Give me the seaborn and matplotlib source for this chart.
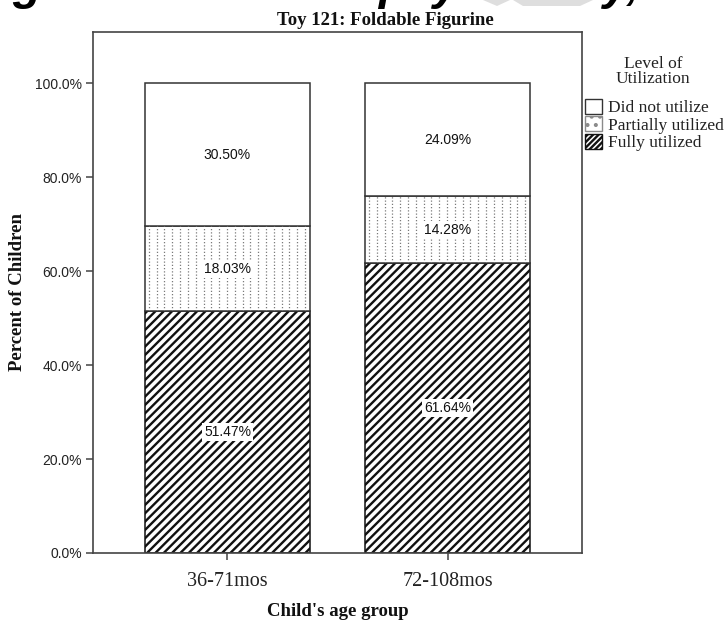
import numpy as np
import pandas as pd
import matplotlib.pyplot as plt
import seaborn as sns
from matplotlib.patches import Patch, Polygon
from matplotlib.ticker import FuncFormatter

# Dane
age_groups = ['36-71mos', '72-108mos']
levels = ['Fully utilized', 'Partially utilized', 'Did not utilize']
fully = [51.47, 61.64]
partially = [18.03, 14.28]
not_utilized = [30.50, 24.09]
y_ticks = [0, 20, 40, 60, 80, 100]

df = pd.DataFrame({'age': age_groups,
                   'Fully utilized': fully,
                   'Partially utilized': partially,
                   'Did not utilize': not_utilized})

sns.set_theme(style='white')
plt.rcParams['font.family'] = ['Liberation Serif', 'DejaVu Serif']
plt.rcParams['hatch.linewidth'] = 1.7

W, H = 726, 621
fig = plt.figure(figsize=(W / 100, H / 100), dpi=100)
ax = fig.add_axes([93 / W, 1 - 553 / H, (582 - 93) / W, (553 - 31.5) / H])

hatches = {'Fully utilized': '////', 'Partially utilized': '', 'Did not utilize': ''}
edges = {'Fully utilized': '#111111', 'Partially utilized': '#333333', 'Did not utilize': '#333333'}
bottom = np.zeros(len(df))
containers = {}
for lvl in levels:
    sns.barplot(data=df, x='age', y=lvl, ax=ax, width=0.75, bottom=bottom,
                color='white', edgecolor=edges[lvl], linewidth=1.1,
                hatch=hatches[lvl], errorbar=None)
    containers[lvl] = ax.containers[-1]
    bottom = bottom + df[lvl].values

# kropkowane wypełnienie dla "Partially utilized"
step = 0.0355
for bar in containers['Partially utilized']:
    x0, w = bar.get_x(), bar.get_width()
    y0, h = bar.get_y(), bar.get_height()
    xs = np.arange(x0 + step / 2, x0 + w, step)
    lc = ax.vlines(xs, y0, y0 + h, colors='#7a7a7a', linewidth=0.9,
                   linestyles=(0, (1, 1.6)), zorder=bar.get_zorder() + 0.1)
    lc.set_clip_path(bar)

# etykiety na słupkach
for lvl in levels:
    ax.bar_label(containers[lvl], labels=[f'{v:.2f}%' for v in df[lvl]],
                 label_type='center', fontsize=10, family='Liberation Sans',
                 color='#111111', zorder=5,
                 bbox=dict(boxstyle='square,pad=0.15', facecolor='white', edgecolor='none'))

ax.set_xlim(-0.611, 1.611)
ax.set_ylim(0, 111)
ax.set_yticks(y_ticks)
ax.yaxis.set_major_formatter(FuncFormatter(lambda v, p: f'{v:.1f}%'))
ax.set_xlabel('')
ax.set_ylabel('')

for s in ax.spines.values():
    s.set_visible(True)
    s.set_color('#444444')
    s.set_linewidth(1.2)

ax.tick_params(axis='both', which='major', length=5, width=1.1, color='#444444',
               bottom=True, left=True, direction='out')
ax.tick_params(axis='y', pad=3, labelsize=10, labelcolor='#222222')
ax.tick_params(axis='x', pad=9, labelsize=14.5, labelcolor='#222222')
for lab in ax.get_yticklabels():
    lab.set_family('Liberation Sans')

# tytuły i opisy osi
fig.text(385 / W, 1 - 25 / H, 'Toy 121: Foldable Figurine', ha='center', va='baseline',
         fontsize=13.5, fontweight='bold', color='#111111')
fig.text(18 / W, 1 - 292 / H, 'Percent of Children', rotation=90, ha='center', va='center',
         fontsize=13.5, fontweight='bold', color='#111111')
fig.text(338 / W, 1 - 616 / H, "Child's age group", ha='center', va='baseline',
         fontsize=13.5, fontweight='bold', color='#111111')

# legenda
fig.text(653 / W, 1 - 56 / H, 'Level of\nUtilization', ha='center', va='top',
         fontsize=12.5, linespacing=0.95, color='#222222')
handles = [Patch(facecolor='white', edgecolor='#333333', label='Did not utilize'),
           Patch(facecolor='white', edgecolor='#8a8a8a', hatch='..', label='Partially utilized'),
           Patch(facecolor='white', edgecolor='#111111', hatch='//////', label='Fully utilized')]
leg = fig.legend(handles=handles, loc='upper left',
                 bbox_to_anchor=(585 / W, 1 - 99 / H), frameon=False,
                 fontsize=12.5, handlelength=1.0, handleheight=0.95,
                 handletextpad=0.3, labelspacing=0.0, borderpad=0, borderaxespad=0)
for t in leg.get_texts():
    t.set_color('#222222')

# fragment nagłówka dokumentu (ucięty u góry)
for x, s in [(12, 'g'), (378, 'p'), (433, 'y'), (603, 'y,')]:
    fig.text(x / W, 1 + 1 / H, s, fontsize=34, fontweight='bold', fontstyle='italic',
             family='Liberation Sans', va='baseline', ha='left', color='black')
for pts in [[(483, 0), (510, 0), (497, 6)], [(513, 0), (593, 0), (580, 6), (523, 6)]]:
    fig.patches.append(Polygon([(px / W, 1 - py / H) for px, py in pts], closed=True,
                               transform=fig.transFigure, facecolor='#dedede',
                               edgecolor='none', zorder=0))

fig.savefig('out.png', dpi=100)
